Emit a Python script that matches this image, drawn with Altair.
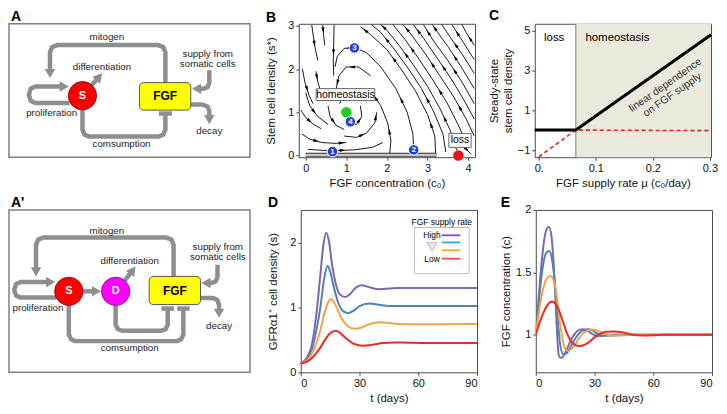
import math
import altair as alt
import pandas as pd

FONT = "Liberation Sans"
FRAME = "#4a4a4a"
ARROW_GRAY = "#8e8e8e"

W_A, W_P = 242, 177
H_TOP, H_BOT = 134, 163

# ---------------- Panel A / A' schematic geometry (box-local units, y down) ----------------
A_BOX = (247, 136)
A_CIRCLES = [("S", 75.3, 73.3, "#ff0000", "#7a0000")]
A_RECT = (133.7, 186.3, 60, 88)
A_NODE_TEXT = [("S", 75.3, 73.3, "white", 11), ("FGF", 160, 74, "black", 12)]
A_PATHS = {
    "mitogen": [(160.3, 60), (160.3, 29), (158.2, 23.8), (153, 21.7), (49.3, 21.7), (44.1, 23.8), (42, 29), (42, 50)],
    "prolif": [(62, 80.7), (27, 80.7), (22.3, 78.6), (20.3, 72.3), (22.3, 66.1), (27, 64), (56, 64)],
    "diff": [(84, 63.5), (92, 54.5)],
    "supply": [(205.3, 47.3), (205.3, 60), (203.6, 64.6), (199, 66.3), (193, 66.3)],
    "decay": [(186.3, 82.3), (198, 82.3), (203.6, 84.4), (205.3, 89), (205.3, 97)],
    "consume": [(75.3, 87.6), (75.3, 108), (77.4, 113), (82.5, 115), (153, 115), (158.2, 113), (160.3, 108), (160.3, 92)],
}
A_HEADS = ["mitogen", "prolif", "diff", "supply", "decay"]
A_TBARS = [(153.7, 167, 91.5)]
A_LABELS = [("mitogen", 100.3, 14), ("differentiation", 95.3, 44), ("proliferation", 43.7, 91.3),
            ("supply from", 203.7, 30.7), ("somatic cells", 203.7, 41.3), ("decay", 205.3, 109),
            ("comsumption", 115.3, 123)]

A2_BOX = (247, 163)
A2_CIRCLES = [("S", 61.3, 81.7, "#ff0000", "#7a0000"), ("D", 109.3, 81.7, "#ff00ff", "#7a007a")]
A2_RECT = (143.7, 196.3, 66.7, 95)
A2_NODE_TEXT = [("S", 61.3, 81.7, "white", 11), ("D", 109.3, 81.7, "white", 11), ("FGF", 170, 81, "black", 12)]
A2_PATHS = {
    "mitogen": [(168.7, 66.7), (168.7, 35), (166.6, 29.8), (161.4, 27.7), (35, 27.7), (29.8, 29.8), (27.7, 35), (27.7, 61.5)],
    "prolif": [(48.7, 88), (12, 88), (7.3, 86), (5.3, 80.2), (7.3, 74.4), (12, 72.3), (42, 72.3)],
    "s2d": [(75.5, 81.7), (89, 81.7)],
    "diff": [(118.7, 71), (126.5, 61)],
    "supply": [(213.7, 55), (213.7, 67), (212, 71.6), (207.4, 73.3), (202.5, 73.3)],
    "decay": [(196.3, 88.3), (208.5, 88.3), (213.5, 90.3), (215.3, 95.3), (215.3, 103)],
    "consD": [(109.3, 95.7), (109.3, 115), (111.4, 119.6), (116, 121.3), (156, 121.3), (160.6, 119.6), (162.7, 115), (162.7, 100)],
    "consS": [(61.3, 95.7), (61.3, 125), (63.4, 129.8), (68, 131.7), (172, 131.7), (176.6, 129.8), (178.7, 125), (178.7, 100)],
}
A2_HEADS = ["mitogen", "prolif", "s2d", "diff", "supply", "decay"]
A2_TBARS = [(156.3, 169.1, 99), (172.3, 185.1, 99)]
A2_LABELS = [("mitogen", 100.3, 21), ("differentiation", 123.7, 51), ("proliferation", 29.7, 98.3),
             ("supply from", 214, 37.3), ("somatic cells", 214, 47.7), ("decay", 215.3, 116.7),
             ("comsumption", 123.7, 139)]

# ---------------- Panel B: stream plot ----------------
B_C_DOMAIN = [-0.17, 4.17]
B_S_DOMAIN = [-0.04, 3.05]
B_STREAMS = [
    [(0.15, 3.02), (0.19, 2.75), (0.24, 2.45), (0.30, 2.2)],
    [(0.42, 3.02), (0.44, 2.8), (0.47, 2.55)],
    [(0.70, 3.02), (0.69, 2.6), (0.68, 2.2), (0.69, 1.85)],
    [(-0.08, 2.0), (-0.02, 1.7), (0.08, 1.4), (0.18, 1.2)],
    [(0.25, 1.95), (0.30, 1.7), (0.38, 1.45)],
    [(-0.12, 1.05), (0.0, 0.88), (0.18, 0.73), (0.38, 0.62)],
    [(-0.1, 0.5), (0.1, 0.38), (0.4, 0.3), (0.75, 0.28), (1.0, 0.3)],
    [(0.05, 0.14), (0.6, 0.11), (1.2, 0.13), (1.65, 0.19), (1.9, 0.3)],
    [(0.55, 1.15), (0.6, 0.9), (0.75, 0.7), (0.95, 0.6)],
    [(0.95, 0.45), (1.25, 0.42), (1.5, 0.52), (1.7, 0.75), (1.75, 1.0)],
    [(1.05, 0.7), (1.25, 0.72), (1.38, 0.9), (1.35, 1.15)],
    [(1.3, 1.45), (1.1, 1.52), (0.92, 1.4), (0.84, 1.2)],
    [(1.6, 1.85), (1.3, 2.05), (1.0, 2.05), (0.82, 1.85), (0.75, 1.55)],
    [(2.07, 0.05), (2.1, 0.35), (2.02, 0.75), (1.85, 1.15), (1.6, 1.5)],
    [(2.66, 0.1), (2.64, 0.5), (2.5, 1.0), (2.22, 1.55), (1.85, 2.05), (1.5, 2.38), (1.2, 2.5), (0.95, 2.48), (0.78, 2.3), (0.72, 2.05)],
    [(3.2, 0.05), (3.18, 0.45), (3.0, 0.95), (2.7, 1.5), (2.35, 2.0), (2.0, 2.45), (1.6, 2.8), (1.35, 2.98)],
    [(3.72, 0.12), (3.55, 0.6), (3.3, 1.1), (3.0, 1.6), (2.65, 2.1), (2.3, 2.55), (2.0, 2.9), (1.85, 3.03)],
    [(4.15, 0.45), (3.95, 0.85), (3.65, 1.35), (3.3, 1.85), (2.95, 2.35), (2.6, 2.8), (2.4, 3.03)],
    [(4.15, 1.2), (3.85, 1.7), (3.5, 2.2), (3.15, 2.65), (2.9, 3.03)],
    [(4.15, 1.9), (3.85, 2.35), (3.55, 2.75), (3.35, 3.03)],
    [(4.15, 2.55), (3.95, 2.85), (3.85, 3.03)],
    [(3.92, 0.18), (4.0, 0.1), (4.08, 0.03)],
    [(3.45, 0.08), (3.38, 0.5), (3.15, 1.02), (2.85, 1.55), (2.5, 2.05), (2.15, 2.5), (1.85, 2.85), (1.62, 3.03)],
    [(3.95, 0.3), (3.75, 0.72), (3.48, 1.22), (3.15, 1.72), (2.8, 2.22), (2.45, 2.68), (2.15, 3.03)],
    [(4.15, 0.85), (3.9, 1.28), (3.58, 1.78), (3.22, 2.28), (2.9, 2.72), (2.65, 3.03)],
    [(4.15, 1.55), (3.85, 2.02), (3.52, 2.5), (3.25, 2.85), (3.12, 3.03)],
    [(4.15, 2.22), (3.88, 2.62), (3.6, 3.03)],
    [(0.0, 1.45), (0.1, 1.15), (0.3, 0.9), (0.55, 0.72)],
]
B_ARROW_SEGS = [[1], [0], [1], [1], [0], [1], [1, 3], [1], [1], [1, 3], [1], [1], [1, 3], [1, 3],
                [2, 6], [1, 4, 6], [1, 4, 6], [1, 3, 5], [1, 3], [1], [0], [0],
                [2, 5], [2, 4], [2, 4], [1, 3], [1], [1]]
B_TRAJ_C = [0.0, 3.22]
B_TRAJ_S = [0.015, 0.015]
B_FIXED_C = [1.0, 3.76]
B_FIXED_S = [1.0, 0.0]
B_FIXED_COLOR = ["#22cc22", "#ee1111"]
B_NUM = ["1", "2", "3", "4"]
B_NUM_C = [0.66, 2.66, 1.2, 1.1]
B_NUM_S = [0.09, 0.13, 2.49, 0.78]

# ---------------- Panel C ----------------
C_MU_DOMAIN = [-0.007, 0.302]
C_S_DOMAIN = [-1.36, 5.33]
C_THRESH = 0.065
C_BLACK_MU = [-0.007, 0.065, 0.302]
C_BLACK_S = [0.0, 0.0, 4.78]
C_RED_MU = [0.0, 0.065, 0.302]
C_RED_S = [-1.34, 0.0, -0.03]

# ---------------- Panel D / E ----------------
SERIES = ["High", "mid-high", "mid-low", "Low"]
LINE_COLORS = ["#7f66ad", "#4d82b5", "#f5a245", "#ec2a26"]
LEGEND_COLORS = ["#8e3fd6", "#22a8ee", "#f6a623", "#ff4a4a"]

D_T = {
    "High": [0, 5, 8, 10, 11.5, 13, 14.5, 16, 18, 20, 22.5, 25, 28, 31, 35, 40, 45, 50, 90],
    "mid-high": [0, 5, 8, 10, 12, 13.7, 15, 17, 19, 21, 24, 27, 30, 35, 40, 45, 50, 90],
    "mid-low": [0, 5, 8, 10, 12, 14, 15.5, 17, 19, 21, 24, 27.5, 31, 35, 40, 45, 50, 60, 90],
    "Low": [0, 5, 8, 10, 12, 15, 18, 21, 24, 27, 31.7, 36, 42, 48, 55, 65, 90],
}
D_S = {
    "High": [0.13, 0.35, 0.9, 1.5, 1.95, 2.15, 2.0, 1.65, 1.35, 1.2, 1.16, 1.2, 1.3, 1.34, 1.31, 1.28, 1.29, 1.30, 1.30],
    "mid-high": [0.13, 0.3, 0.65, 1.0, 1.45, 1.64, 1.55, 1.3, 1.08, 0.96, 0.91, 0.95, 1.02, 1.06, 1.04, 1.02, 1.02, 1.02],
    "mid-low": [0.13, 0.25, 0.45, 0.65, 0.9, 1.08, 1.13, 1.08, 0.95, 0.82, 0.71, 0.67, 0.69, 0.74, 0.77, 0.76, 0.745, 0.74, 0.745],
    "Low": [0.13, 0.2, 0.3, 0.38, 0.48, 0.6, 0.64, 0.58, 0.5, 0.44, 0.41, 0.42, 0.45, 0.46, 0.455, 0.45, 0.45],
}
E_T = {
    "High": [0, 1.5, 3, 4.5, 5.5, 6.7, 8, 9, 10, 11, 11.8, 13, 14.5, 16, 18, 20, 22, 24.3, 26.5, 29, 32, 36, 42, 90],
    "mid-high": [0, 1.5, 3, 4.5, 5.5, 6.8, 8, 9.2, 10.5, 11.5, 12.5, 14, 15.5, 17, 19, 21, 23, 25, 27, 29, 31, 34, 38, 45, 90],
    "mid-low": [0, 1.5, 3, 4.5, 6, 7.7, 9, 10.5, 12, 13.5, 15, 16.5, 18, 20, 22, 24, 26, 28, 30, 32, 35, 38, 42, 50, 90],
    "Low": [0, 2, 4, 6, 8.3, 10, 12, 14, 16, 18, 20, 22, 24, 27, 30, 33, 36, 40, 44, 48, 55, 65, 90],
}
E_C = {
    "High": [1.0, 1.3, 1.58, 1.78, 1.845, 1.865, 1.79, 1.6, 1.3, 0.98, 0.83, 0.815, 0.84, 0.89, 0.96, 1.01, 1.04, 1.045, 1.03, 1.005, 0.99, 0.995, 1.0, 1.0],
    "mid-high": [1.0, 1.25, 1.48, 1.62, 1.66, 1.672, 1.63, 1.5, 1.28, 1.07, 0.92, 0.845, 0.85, 0.88, 0.94, 0.99, 1.025, 1.04, 1.045, 1.035, 1.015, 0.995, 0.995, 1.0, 1.0],
    "mid-low": [1.0, 1.17, 1.31, 1.41, 1.46, 1.472, 1.44, 1.33, 1.14, 0.98, 0.89, 0.87, 0.88, 0.92, 0.97, 1.01, 1.03, 1.04, 1.04, 1.03, 1.01, 0.995, 0.995, 1.0, 1.0],
    "Low": [1.0, 1.1, 1.18, 1.24, 1.267, 1.25, 1.19, 1.1, 1.01, 0.95, 0.92, 0.91, 0.915, 0.94, 0.98, 1.01, 1.025, 1.027, 1.02, 1.005, 0.995, 1.0, 1.0],
}
D_LEG_TEXT = ["High", "Low"]

NUMFMT = "~r"
Y_EXT = 18


def panel_title(letter, dx=0, offset=0):
    return alt.TitleParams(letter, anchor="start", frame="bounds", dx=dx, offset=offset,
                           fontSize=14, fontWeight="bold", font=FONT)


def diagram(letter, box, height, circles, rect, node_text, paths, heads, tbars, labels):
    bw, bh = box
    xs = alt.Scale(domain=[0, bw], nice=False, zero=False)
    ys = alt.Scale(domain=[0, bh], nice=False, zero=False, reverse=True)

    def X(f):
        return alt.X(f, scale=xs, axis=None)

    def Y(f):
        return alt.Y(f, scale=ys, axis=None)

    rows = []
    for name, pts in paths.items():
        for j, (x, y) in enumerate(pts):
            rows.append({"path": name, "o": j, "x": x, "y": y})
    shafts = alt.Chart(pd.DataFrame(rows)).mark_line(
        color=ARROW_GRAY, strokeWidth=4.5, strokeJoin="round", strokeCap="butt"
    ).encode(x=X("x:Q"), y=Y("y:Q"), detail="path:N", order="o:Q")

    kx, ky = W_A / bw, height / bh
    hrows = []
    for name in heads:
        (x0, y0), (x1, y1) = paths[name][-2], paths[name][-1]
        ang = math.degrees(math.atan2((x1 - x0) * kx, -(y1 - y0) * ky)) % 360
        hrows.append({"x": x1, "y": y1, "angle": ang})
    head_layer = alt.Chart(pd.DataFrame(hrows)).mark_point(
        shape="M0,-1L1,0.75L-1,0.75Z", filled=True, color=ARROW_GRAY, opacity=1, size=110
    ).encode(x=X("x:Q"), y=Y("y:Q"), angle=alt.Angle("angle:Q", scale=None))

    tb = pd.DataFrame([{"x0": a, "x1": b, "y": y} for a, b, y in tbars])
    tbar_layer = alt.Chart(tb).mark_rule(color=ARROW_GRAY, strokeWidth=4.5).encode(
        x=X("x0:Q"), x2="x1:Q", y=Y("y:Q"))

    rdf = pd.DataFrame([{"x0": rect[0], "x1": rect[1], "y0": rect[2], "y1": rect[3]}])
    rect_layer = alt.Chart(rdf).mark_rect(fill="#ffff00", stroke="#555555", strokeWidth=1,
                                          cornerRadius=4).encode(
        x=X("x0:Q"), x2="x1:Q", y=Y("y0:Q"), y2="y1:Q")

    cdf = pd.DataFrame([{"n": n, "x": x, "y": y, "fill": f, "stroke": s} for n, x, y, f, s in circles])
    circ_layer = alt.Chart(cdf).mark_point(shape="circle", filled=True, size=810, opacity=1,
                                           strokeWidth=0.8).encode(
        x=X("x:Q"), y=Y("y:Q"), fill=alt.Fill("fill:N", scale=None),
        stroke=alt.Stroke("stroke:N", scale=None))

    ndf = pd.DataFrame([{"t": t, "x": x, "y": y, "c": c, "fs": fs} for t, x, y, c, fs in node_text])
    node_layer = alt.Chart(ndf).mark_text(font=FONT, fontWeight="bold", baseline="middle",
                                          align="center").encode(
        x=X("x:Q"), y=Y("y:Q"), text="t:N", color=alt.Color("c:N", scale=None),
        size=alt.Size("fs:Q", scale=None))

    ldf = pd.DataFrame([{"t": t, "x": x, "y": y} for t, x, y in labels])
    lab_layer = alt.Chart(ldf).mark_text(font=FONT, fontSize=9.8, color="#222222",
                                         baseline="middle", align="center").encode(
        x=X("x:Q"), y=Y("y:Q"), text="t:N")

    return alt.layer(shafts, tbar_layer, head_layer, rect_layer, circ_layer, node_layer, lab_layer).properties(
        width=W_A, height=height, title=panel_title(letter, 2, 0),
        view=alt.ViewBackground(stroke="#808080", strokeWidth=1.5))


# ---------------- build panel B ----------------
kxB = W_P / (B_C_DOMAIN[1] - B_C_DOMAIN[0])
kyB = H_TOP / (B_S_DOMAIN[1] - B_S_DOMAIN[0])
b_rows, b_arrows = [], []
for i, pts in enumerate(B_STREAMS):
    for j, (c, s) in enumerate(pts):
        b_rows.append({"line": i, "o": j, "c": c, "s": s})
    for k in B_ARROW_SEGS[i]:
        (c0, s0), (c1, s1) = pts[k], pts[k + 1]
        ang = math.degrees(math.atan2((c1 - c0) * kxB, (s1 - s0) * kyB)) % 360
        b_arrows.append({"c": (c0 + c1) / 2, "s": (s0 + s1) / 2, "angle": ang})

bxs = alt.Scale(domain=B_C_DOMAIN, nice=False, zero=False)
bys = alt.Scale(domain=B_S_DOMAIN, nice=False, zero=False)
bX = alt.X("c:Q", scale=bxs, axis=alt.Axis(values=[0, 1, 2, 3, 4], format=NUMFMT, title="FGF concentration (c₀)"))
bY = alt.Y("s:Q", scale=bys, axis=alt.Axis(values=[0, 1, 2, 3], format=NUMFMT, minExtent=Y_EXT, maxExtent=Y_EXT,
                                           title="Stem cell density (s*)"))
bx = alt.X("c:Q", scale=bxs)
by = alt.Y("s:Q", scale=bys)

b_lines = alt.Chart(pd.DataFrame(b_rows)).mark_line(color="black", strokeWidth=0.9, clip=True).encode(
    x=bX, y=bY, detail="line:N", order="o:Q")
b_heads = alt.Chart(pd.DataFrame(b_arrows)).mark_point(
    shape="M0,-1L0.5,0.8L-0.5,0.8Z", filled=True, color="black", opacity=1, size=40
).encode(x=bx, y=by, angle=alt.Angle("angle:Q", scale=None))
traj = pd.DataFrame({"c": B_TRAJ_C, "s": B_TRAJ_S})
b_traj1 = alt.Chart(traj).mark_line(color="#333333", strokeWidth=4).encode(x=bx, y=by)
b_traj2 = alt.Chart(traj).mark_line(color="#c8c8c8", strokeWidth=2.2).encode(x=bx, y=by)
b_fixed = alt.Chart(pd.DataFrame({"c": B_FIXED_C, "s": B_FIXED_S, "col": B_FIXED_COLOR})).mark_point(
    shape="circle", filled=True, opacity=1, size=110).encode(x=bx, y=by, color=alt.Color("col:N", scale=None))
numdf = pd.DataFrame({"c": B_NUM_C, "s": B_NUM_S, "n": B_NUM})
b_num = alt.Chart(numdf).mark_point(shape="circle", filled=True, fill="#1f3fd8", stroke="white",
                                    strokeWidth=1, opacity=1, size=110).encode(x=bx, y=by)
b_numt = alt.Chart(numdf).mark_text(font=FONT, fontSize=8, fontWeight="bold", color="white",
                                    baseline="middle").encode(x=bx, y=by, text="n:N")
hom = pd.DataFrame({"c": [0.98], "s": [1.41], "t": ["homeostasis"]})
loss = pd.DataFrame({"c": [3.8], "s": [0.35], "t": ["loss"]})
b_hbox = alt.Chart(hom).mark_point(shape="M-2.45,-0.5H2.45V0.5H-2.45Z", filled=True, fill="white",
                                   stroke="#666666", strokeWidth=1, opacity=1, size=576).encode(x=bx, y=by)
b_lbox = alt.Chart(loss).mark_point(shape="M-0.8,-0.5H0.8V0.5H-0.8Z", filled=True, fill="white",
                                    stroke="#666666", strokeWidth=1, opacity=1, size=784).encode(x=bx, y=by)
b_htxt = alt.Chart(hom).mark_text(font=FONT, fontSize=10.5, baseline="middle").encode(x=bx, y=by, text="t:N")
b_ltxt = alt.Chart(loss).mark_text(font=FONT, fontSize=10.5, baseline="middle").encode(x=bx, y=by, text="t:N")

panel_B = alt.layer(b_lines, b_heads, b_traj1, b_traj2, b_hbox, b_htxt, b_lbox, b_ltxt,
                    b_fixed, b_num, b_numt).properties(width=W_P, height=H_TOP,
                                                        title=panel_title("B", 0, -5.5))

# ---------------- build panel C ----------------
cxs = alt.Scale(domain=C_MU_DOMAIN, nice=False, zero=False)
cys = alt.Scale(domain=C_S_DOMAIN, nice=False, zero=False)
cX = alt.X("mu:Q", scale=cxs, axis=alt.Axis(values=[0, 0.05, 0.1, 0.15, 0.2, 0.25, 0.3], format=NUMFMT,
                                            labelExpr="datum.value == 0 ? '0.' : datum.label",
                                            title="FGF supply rate μ (c₀/day)"))
cY = alt.Y("s:Q", scale=cys, axis=alt.Axis(values=[-1, 0, 1, 2, 3, 4, 5], format=NUMFMT,
                                           title=["Steady-state", "stem cell density"]))
cx = alt.X("mu:Q", scale=cxs)
cy = alt.Y("s:Q", scale=cys)
c_bg = alt.Chart(pd.DataFrame({"mu": [C_THRESH], "mu2": [C_MU_DOMAIN[1]], "s": [C_S_DOMAIN[0]],
                               "s2": [C_S_DOMAIN[1]]})).mark_rect(color="#ebe8dc").encode(
    x=cX, x2="mu2:Q", y=cY, y2="s2:Q")
c_rule = alt.Chart(pd.DataFrame({"mu": [C_THRESH]})).mark_rule(color="#7a7a7a", strokeWidth=1).encode(x=cx)
c_black = alt.Chart(pd.DataFrame({"mu": C_BLACK_MU, "s": C_BLACK_S})).mark_line(
    color="black", strokeWidth=3).encode(x=cx, y=cy)
c_red = alt.Chart(pd.DataFrame({"mu": C_RED_MU, "s": C_RED_S})).mark_line(
    color="#e8231f", strokeWidth=1.6, strokeDash=[4, 3]).encode(x=cx, y=cy)
c_reg = alt.Chart(pd.DataFrame({"mu": [0.027, 0.138], "s": [4.6, 4.6], "t": ["loss", "homeostasis"]})).mark_text(
    font=FONT, fontSize=11.5, baseline="middle").encode(x=cx, y=cy, text="t:N")
c_lin = alt.Chart(pd.DataFrame({"mu": [0.222], "s": [2.25]})).mark_text(
    text=["linear dependence", "on FGF supply"], font=FONT, fontSize=10.5, angle=325, lineHeight=12,
    color="#333333", baseline="middle").encode(x=cx, y=cy)
panel_C = alt.layer(c_bg, c_rule, c_red, c_black, c_reg, c_lin).properties(
    width=W_P, height=H_TOP, title=panel_title("C", 0, 0))


# ---------------- panels D and E ----------------
def long_df(T, V, name):
    rows = []
    for sname in SERIES:
        for j, (t, v) in enumerate(zip(T[sname], V[sname])):
            rows.append({"series": sname, "o": j, "t": t, name: v})
    return pd.DataFrame(rows)


color_enc = alt.Color("series:N", scale=alt.Scale(domain=SERIES, range=LINE_COLORS), legend=None)
dxs = alt.Scale(domain=[0, 90], nice=False, zero=False)
dys = alt.Scale(domain=[0, 2.5], nice=False, zero=False)
d_lines = alt.Chart(long_df(D_T, D_S, "v")).mark_line(strokeWidth=2, interpolate="monotone").encode(
    x=alt.X("t:Q", scale=dxs, axis=alt.Axis(values=[0, 30, 60, 90], format=NUMFMT, title="t (days)")),
    y=alt.Y("v:Q", scale=dys, axis=alt.Axis(values=[0, 1, 2], format=NUMFMT, minExtent=Y_EXT, maxExtent=Y_EXT,
                                            title="GFRα1⁺ cell density (s)")),
    color=color_enc, detail="series:N", order="o:Q")
dx = alt.X("t:Q", scale=dxs)
dy = alt.Y("v:Q", scale=dys)
leg_box = alt.Chart(pd.DataFrame({"t": [58], "t2": [86], "v": [1.52], "v2": [2.23]})).mark_rect(
    fill="white", stroke="#bbbbbb", strokeWidth=1).encode(x=dx, x2="t2:Q", y=dy, y2="v2:Q")
leg_title = alt.Chart(pd.DataFrame({"t": [72], "v": [2.32]})).mark_text(
    text="FGF supply rate", font=FONT, fontSize=8.5, baseline="middle").encode(x=dx, y=dy)
leg_lines = alt.Chart(pd.DataFrame({"t": [72] * 4, "t2": [81.5] * 4, "v": [2.11, 2.0, 1.88, 1.75],
                                    "series": SERIES})).mark_rule(strokeWidth=1.8).encode(
    x=dx, x2="t2:Q", y=dy,
    color=alt.Color("series:N", scale=alt.Scale(domain=SERIES, range=LEGEND_COLORS), legend=None))
leg_txt = alt.Chart(pd.DataFrame({"t": [67, 67], "v": [2.11, 1.75], "n": D_LEG_TEXT})).mark_text(
    font=FONT, fontSize=8.5, baseline="middle").encode(x=dx, y=dy, text="n:N")
leg_tri = alt.Chart(pd.DataFrame({"t": [67], "v": [1.93]})).mark_point(
    shape="triangle-down", filled=True, fill="#e4e4e4", stroke="#b5b5b5", strokeWidth=0.8,
    opacity=1, size=110).encode(x=dx, y=dy)
panel_D = alt.layer(d_lines, leg_box, leg_title, leg_lines, leg_txt, leg_tri).resolve_scale(
    color="independent").properties(width=W_P, height=H_BOT, title=panel_title("D", 0, 0))

exs = alt.Scale(domain=[0, 90], nice=False, zero=False)
eys = alt.Scale(domain=[0.7, 2.0], nice=False, zero=False)
panel_E = alt.Chart(long_df(E_T, E_C, "v")).mark_line(strokeWidth=2, interpolate="monotone", clip=True).encode(
    x=alt.X("t:Q", scale=exs, axis=alt.Axis(values=[0, 30, 60, 90], format=NUMFMT, title="t (days)")),
    y=alt.Y("v:Q", scale=eys, axis=alt.Axis(values=[1, 1.5, 2], format=NUMFMT, title="FGF concentration (c)")),
    color=color_enc, detail="series:N", order="o:Q").properties(
    width=W_P, height=H_BOT, title=panel_title("E", 0, -5.5))

panel_A = diagram("A", A_BOX, H_TOP, A_CIRCLES, A_RECT, A_NODE_TEXT, A_PATHS, A_HEADS, A_TBARS, A_LABELS)
panel_A2 = diagram("A'", A2_BOX, H_BOT, A2_CIRCLES, A2_RECT, A2_NODE_TEXT, A2_PATHS, A2_HEADS, A2_TBARS, A2_LABELS)

top = alt.hconcat(panel_A, alt.hconcat(panel_B, panel_C, spacing=12), spacing=14)
bottom = alt.hconcat(panel_A2, alt.hconcat(panel_D, panel_E, spacing=18), spacing=16)

chart = alt.vconcat(top, bottom, spacing=6).properties(padding=0).configure_view(
    stroke=FRAME, strokeWidth=1
).configure_axis(
    labelFont=FONT, titleFont=FONT, labelFontSize=11, titleFontSize=11.5, titleFontWeight="normal",
    labelColor="#111111", titleColor="#111111", grid=False, domain=False, ticks=True, tickSize=3,
    tickColor=FRAME, labelPadding=2, titlePadding=4
).configure_title(font=FONT, fontSize=14, fontWeight="bold", anchor="start", color="black")

chart.save("out.html", embed_options={"renderer": "svg", "actions": False})
